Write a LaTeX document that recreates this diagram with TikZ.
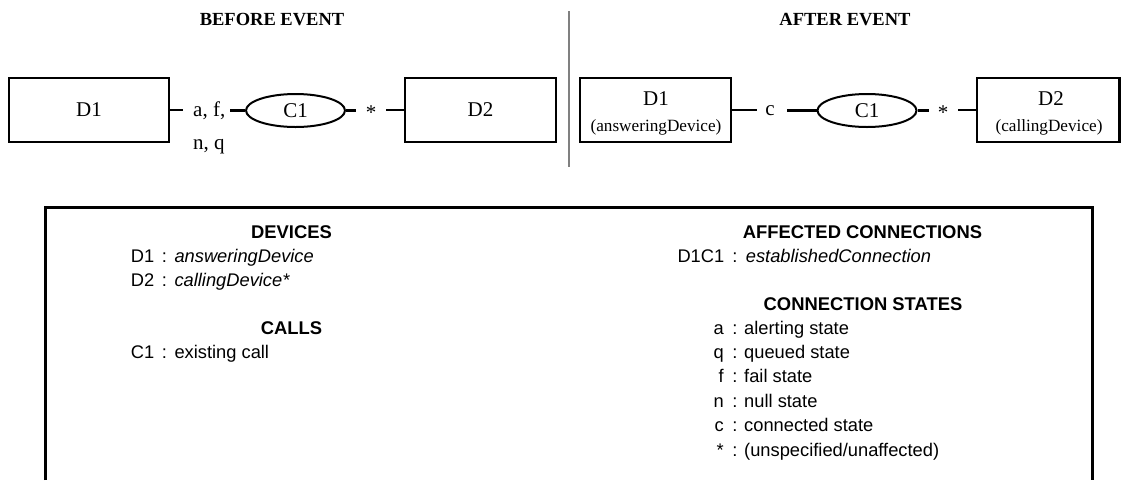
\documentclass[tikz,border=0pt]{standalone}
\usepackage{fontspec}
\setmainfont{Liberation Serif}
\newfontfamily\arialfam{Liberation Sans}
\usetikzlibrary{shapes.geometric}
\begin{document}
\begin{tikzpicture}[x=1pt,y=-1pt,
  dev/.style={draw,line width=2.6pt,rectangle,inner sep=0pt,minimum height=64pt},
  call/.style={draw,ellipse,line width=2pt,inner sep=0pt,minimum width=99pt,minimum height=33pt,font=\fontsize{21}{25}\selectfont},
  conn/.style={line width=2.4pt},
  lbl/.style={inner sep=0pt,font=\fontsize{21}{25}\selectfont},
  sublbl/.style={inner sep=0pt,anchor=base,font=\fontsize{17.2}{20}\selectfont},
  ttl/.style={inner sep=0pt,font=\fontsize{18.5}{22}\selectfont\bfseries},
  hd/.style={inner sep=0pt,anchor=base,font=\arialfam\fontsize{18.4}{22}\selectfont\bfseries},
  tx/.style={inner sep=0pt,font=\arialfam\fontsize{18.3}{22}\selectfont},
  it/.style={tx,anchor=base west,font=\arialfam\itshape\fontsize{18.3}{22}\selectfont},
]
\useasboundingbox (0,0) rectangle (1121,480);

% titles and divider
\node[ttl] (tbefore) at (272,20) {BEFORE EVENT};
\node[ttl] (tafter) at (845,20) {AFTER EVENT};
\draw[line width=2pt,draw={rgb,255:red,128;green,128;blue,128}] (569,11) -- (569,167);

% before event
\node[dev,minimum width=160pt,font=\fontsize{21}{25}\selectfont] (D1a) at (89,110) {D1};
\node[lbl,anchor=base west] (sa1) at (193,116) {a, f,};
\node[lbl,anchor=base west] (sa2) at (193,149) {n, q};
\node[call] (C1a) at (295.5,110.5) {C1};
\node[lbl,anchor=base] (sta) at (371,119) {*};
\node[dev,minimum width=151pt,font=\fontsize{21}{25}\selectfont] (D2a) at (480.5,110) {D2};
\draw[conn] (D1a.east) -- ++(13,0);
\draw[conn] (C1a.west) -- ++(-15,0);
\draw[conn] (C1a.east) -- ++(10,0);
\draw[conn] (D2a.west) -- ++(-18,0);

% after event
\node[dev,minimum width=151pt] (D1b) at (655.5,110) {};
\node[lbl,anchor=base] (D1bl) at (656,105) {D1};
\node[sublbl] (D1bs) at (656,131) {(answeringDevice)};
\node[lbl,anchor=base] (scb) at (770,115.5) {c};
\node[call] (C1b) at (867,110.5) {C1};
\node[lbl,anchor=base] (stb) at (943,119) {*};
\node[dev,minimum width=142.5pt] (D2b) at (1048.25,110) {};
\node[lbl,anchor=base] (D2bl) at (1051,105) {D2};
\node[sublbl] (D2bs) at (1049,131) {(callingDevice)};
\draw[conn] (D1b.east) -- ++(25,0);
\draw[conn] (C1b.west) -- ++(-30,0);
\draw[conn] (C1b.east) -- ++(11,0);
\draw[conn] (D2b.west) -- ++(-18,0);

% legend frame (open at the bottom)
\draw[line width=3pt] (45,480) -- (45,207) -- (1092,207) -- (1092,480);

% left column
\node[hd] (hdev) at (291.5,238) {DEVICES};
\node[tx,anchor=base west] (k1) at (130.7,262) {D1};
\node[tx,anchor=base] (c1) at (164.3,262) {:};
\node[it] (v1) at (174.3,262) {answeringDevice};
\node[tx,anchor=base west] (k2) at (130.7,286.5) {D2};
\node[tx,anchor=base] (c2) at (164.3,286.5) {:};
\node[it] (v2) at (174.3,286.5) {callingDevice*};
\node[hd] (hcall) at (291.5,334) {CALLS};
\node[tx,anchor=base west] (k3) at (130.7,358.5) {C1};
\node[tx,anchor=base] (c3) at (164.3,358.5) {:};
\node[tx,anchor=base west] (v3) at (174.3,358.5) {existing call};

% right column
\node[hd] (haff) at (862.5,238) {AFFECTED CONNECTIONS};
\node[tx,anchor=base west] (k4) at (677.3,262.5) {D1C1};
\node[tx,anchor=base] (c4) at (735,262.5) {:};
\node[it] (v4) at (745.7,262.5) {establishedConnection};
\node[hd] (hst) at (863,310) {CONNECTION STATES};
\node[tx,anchor=base east] (s1) at (724,334) {a};
\node[tx,anchor=base] (d1) at (735,334) {:};
\node[tx,anchor=base west] (t1) at (744,334) {alerting state};
\node[tx,anchor=base east] (s2) at (724,358.5) {q};
\node[tx,anchor=base] (d2) at (735,358.5) {:};
\node[tx,anchor=base west] (t2) at (744,358.5) {queued state};
\node[tx,anchor=base east] (s3) at (724,382.5) {f};
\node[tx,anchor=base] (d3) at (735,382.5) {:};
\node[tx,anchor=base west] (t3) at (744,382.5) {fail state};
\node[tx,anchor=base east] (s4) at (724,407) {n};
\node[tx,anchor=base] (d4) at (735,407) {:};
\node[tx,anchor=base west] (t4) at (744,407) {null state};
\node[tx,anchor=base east] (s5) at (724,431.5) {c};
\node[tx,anchor=base] (d5) at (735,431.5) {:};
\node[tx,anchor=base west] (t5) at (744,431.5) {connected state};
\node[tx,anchor=base east] (s6) at (724,456) {*};
\node[tx,anchor=base] (d6) at (735,456) {:};
\node[tx,anchor=base west] (t6) at (744,456) {(unspecified/unaffected)};
\end{tikzpicture}
\end{document}
